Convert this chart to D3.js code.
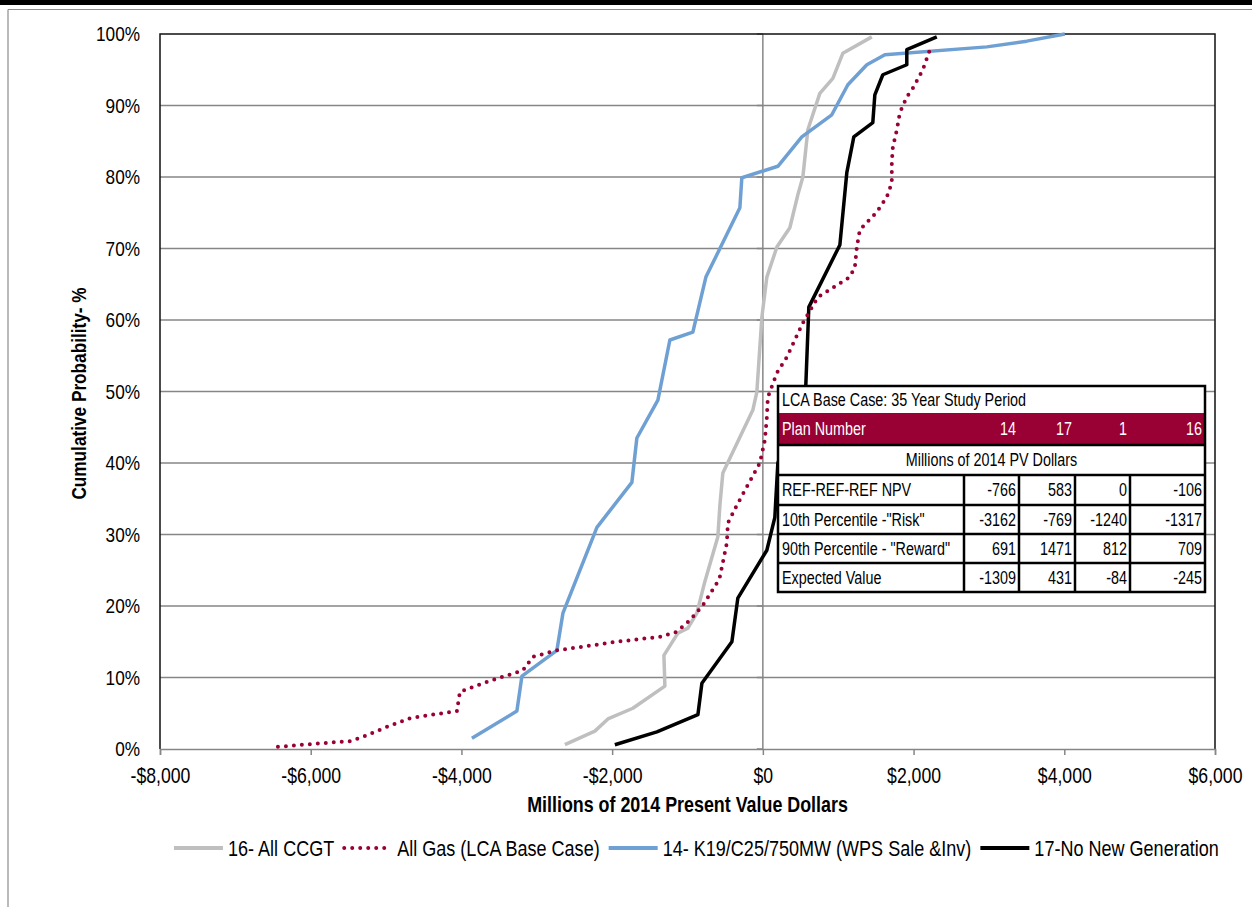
<!DOCTYPE html>
<html>
<head>
<meta charset="utf-8">
<script src="https://cdn.jsdelivr.net/npm/d3@7"></script>
<style>
  html, body { margin: 0; padding: 0; background: #fff; }
  svg { display: block; }
  text { font-family: "Liberation Sans", Arial, sans-serif; }
</style>
</head>
<body>
<svg id="chart" width="1252" height="907"></svg>
<script>
// ---------------- DATA ----------------
const xTicks = [-8000, -6000, -4000, -2000, 0, 2000, 4000, 6000];
const xTickLabels = ["-$8,000", "-$6,000", "-$4,000", "-$2,000", "$0", "$2,000", "$4,000", "$6,000"];
const yTicks = [0, 10, 20, 30, 40, 50, 60, 70, 80, 90, 100];
const yTickLabels = ["0%", "10%", "20%", "30%", "40%", "50%", "60%", "70%", "80%", "90%", "100%"];

const seriesNames = ["16- All CCGT", "All Gas (LCA Base Case)", "14- K19/C25/750MW (WPS Sale &Inv)", "17-No New Generation"];

// 16- All CCGT
const ccgtX = [-2627, -2229, -2056, -1725, -1300, -1313, -1128, -995, -876, -770, -597, -570, -531, -133, -80, -13, 53, 186, 358, 464, 531, 597, 756, 929, 1061, 1446];
const ccgtY = [0.6, 2.5, 4.2, 5.7, 8.8, 13.1, 16.2, 16.9, 19.0, 23.4, 29.7, 34.1, 38.6, 47.4, 49.9, 60.4, 66.0, 70.2, 72.9, 77.5, 80.0, 86.6, 91.7, 93.8, 97.3, 99.6];

// All Gas (LCA Base Case)
const gasX = [-6435, -6103, -5479, -5307, -4988, -4683, -4511, -4060, -4020, -3715, -3449, -3184, -3051, -2733, -1937, -1366, -1141, -968, -796, -610, -570, -478, -464, -345, -40, 27, 53, 66, 186, 318, 531, 730, 1154, 1221, 1247, 1287, 1512, 1645, 1711, 1711, 1725, 1778, 1818, 1910, 1990, 2123, 2216];
const gasY = [0.3, 0.6, 1.1, 1.7, 3.1, 4.3, 4.6, 5.3, 8.0, 9.2, 10.1, 11.0, 12.9, 13.8, 15.0, 15.7, 16.4, 18.0, 20.1, 23.2, 24.1, 28.8, 31.6, 34.1, 40.0, 43.2, 46.4, 49.2, 52.6, 54.8, 59.6, 63.2, 66.0, 67.4, 70.2, 72.6, 75.1, 77.2, 79.2, 82.0, 84.2, 86.6, 89.0, 91.2, 92.4, 95.0, 97.8];

// 14- K19/C25/750MW
const k19X = [-3861, -3264, -3197, -2733, -2653, -2202, -1738, -1672, -1393, -1234, -929, -756, -305, -279, 199, 517, 915, 1128, 1380, 1619, 2972, 3502, 4007];
const k19Y = [1.5, 5.3, 10.2, 13.8, 19.0, 31.0, 37.3, 43.5, 48.8, 57.2, 58.3, 66.0, 75.7, 79.9, 81.5, 85.6, 88.7, 92.9, 95.7, 97.1, 98.2, 99.0, 100];

// 17-No New Generation
const noGenX = [-1964, -1406, -862, -809, -411, -332, 53, 159, 199, 570, 610, 1022, 1114, 1207, 1459, 1486, 1592, 1910, 1910, 2308];
const noGenY = [0.6, 2.4, 4.8, 9.2, 15.0, 21.1, 27.8, 32.4, 40.0, 50.9, 61.8, 70.5, 80.6, 85.6, 87.6, 91.5, 94.3, 95.7, 97.8, 99.6];

// Table
const tableTitle = "LCA Base Case: 35 Year Study Period";
const tableSubtitle = "Millions of 2014 PV Dollars";
const planNumbers = ["14", "17", "1", "16"];
const rowLabels = ["REF-REF-REF NPV", "10th Percentile -\"Risk\"", "90th Percentile - \"Reward\"", "Expected Value"];
const rowNpv = [-766, 583, 0, -106];
const rowRisk = [-3162, -769, -1240, -1317];
const rowReward = [691, 1471, 812, 709];
const rowExpected = [-1309, 431, -84, -245];

// ---------------- CHART ----------------
const svg = d3.select("#chart");
const W = 1252, H = 907;
const plot = {left: 160, right: 1215, top: 34, bottom: 749};
const MAROON = "#990033";
const NARROW = 0.82; // condensed look (Arial Narrow proportions)

// helper: condensed text
function ntext(parent, x, y, str, opts = {}) {
  const t = parent.append("text")
    .attr("transform", `translate(${x},${y}) scale(${NARROW},1)`)
    .attr("x", 0).attr("y", 0)
    .attr("text-anchor", opts.anchor || "start")
    .attr("fill", opts.fill || "#000")
    .style("font-size", opts.size || "21px")
    .style("font-weight", opts.weight || "normal")
    .text(str);
  return t;
}

// page frame
svg.append("rect").attr("x", 0).attr("y", 0).attr("width", W).attr("height", 5).attr("fill", "#000");
svg.append("line").attr("x1", 8).attr("x2", W).attr("y1", 9.5).attr("y2", 9.5).attr("stroke", "#8c8c8c").attr("stroke-width", 1.2);
svg.append("line").attr("x1", 8).attr("x2", 8).attr("y1", 9.5).attr("y2", H).attr("stroke", "#8c8c8c").attr("stroke-width", 1.2);

const x = d3.scaleLinear().domain([-8000, 6000]).range([plot.left, plot.right]);
const y = d3.scaleLinear().domain([0, 100]).range([plot.bottom, plot.top]);

// gridlines
svg.append("g").selectAll("line").data(yTicks.filter(t => t > 0 && t < 100)).join("line")
  .attr("x1", plot.left).attr("x2", plot.right)
  .attr("y1", d => y(d)).attr("y2", d => y(d))
  .attr("stroke", "#868686").attr("stroke-width", 1.5);

// vertical axis at x = 0
svg.append("line").attr("x1", x(0)).attr("x2", x(0)).attr("y1", plot.top).attr("y2", plot.bottom)
  .attr("stroke", "#868686").attr("stroke-width", 1.5);
svg.append("g").selectAll("line").data(yTicks).join("line")
  .attr("x1", x(0) - 6).attr("x2", x(0))
  .attr("y1", d => y(d)).attr("y2", d => y(d))
  .attr("stroke", "#868686").attr("stroke-width", 1.5);

// plot border
svg.append("path")
  .attr("d", `M${plot.left},${plot.bottom}V${plot.top}H${plot.right}V${plot.bottom}`)
  .attr("fill", "none").attr("stroke", "#111").attr("stroke-width", 1.5);

// x axis
const xAxis = d3.axisBottom(x).tickValues(xTicks)
  .tickFormat((d, i) => xTickLabels[i]).tickSize(6).tickPadding(13);
const gx = svg.append("g").attr("transform", `translate(0,${plot.bottom})`).call(xAxis);
gx.select(".domain").attr("stroke", "#868686").attr("stroke-width", 1.5);
gx.selectAll(".tick line").attr("stroke", "#868686").attr("stroke-width", 1.5);
gx.selectAll(".tick text").attr("fill", "#000")
  .attr("transform", `scale(${NARROW},1)`)
  .style("font-size", "21.5px").style("font-family", "'Liberation Sans', Arial, sans-serif");

// y axis labels
const yPad = 20;
const yAxis = d3.axisLeft(y).tickValues(yTicks)
  .tickFormat((d, i) => yTickLabels[i]).tickSize(0).tickPadding(yPad);
const gy = svg.append("g").attr("transform", `translate(${plot.left},0)`).call(yAxis);
gy.select(".domain").remove();
gy.selectAll(".tick text").attr("fill", "#000")
  .attr("x", -yPad / NARROW)
  .attr("transform", `scale(${NARROW},1)`)
  .style("font-size", "21px").style("font-family", "'Liberation Sans', Arial, sans-serif");

// axis titles
ntext(svg, (plot.left + plot.right) / 2, 812, "Millions of 2014 Present Value Dollars",
  {anchor: "middle", weight: "bold", size: "21.8px"});
svg.append("text")
  .attr("transform", `translate(86,${(plot.top + plot.bottom) / 2 + 2}) rotate(-90) scale(${NARROW},1)`)
  .attr("text-anchor", "middle").style("font-size", "21px").style("font-weight", "bold")
  .text("Cumulative Probability- %");

// series
const line = d3.line().x(d => x(d[0])).y(d => y(d[1]));
const zip = (a, b) => a.map((v, i) => [v, b[i]]);
const styles = [
  {xs: ccgtX, ys: ccgtY, color: "#BFBFBF", dash: null, width: 3.5},
  {xs: k19X, ys: k19Y, color: "#6FA0D3", dash: null, width: 3.5},
  {xs: noGenX, ys: noGenY, color: "#000000", dash: null, width: 3.5},
  {xs: gasX, ys: gasY, color: MAROON, dash: "0,8", width: 4}
];
styles.forEach(s => {
  svg.append("path").datum(zip(s.xs, s.ys))
    .attr("d", line).attr("fill", "none")
    .attr("stroke", s.color).attr("stroke-width", s.width)
    .attr("stroke-linejoin", "round")
    .attr("stroke-linecap", s.dash ? "round" : "butt")
    .attr("stroke-dasharray", s.dash);
});

// legend
const legendItems = [
  {name: seriesNames[0], color: "#BFBFBF", dash: null},
  {name: seriesNames[1], color: MAROON, dash: "0,8"},
  {name: seriesNames[2], color: "#6FA0D3", dash: null},
  {name: seriesNames[3], color: "#000000", dash: null}
];
const lg = svg.append("g");
let lx = 174;
const ly = 848;
legendItems.forEach(it => {
  const g = lg.append("g");
  if (it.dash) {
    g.append("line").attr("x1", lx + 1).attr("x2", lx + 42).attr("y1", ly).attr("y2", ly)
      .attr("stroke", it.color).attr("stroke-width", 4).attr("stroke-linecap", "round")
      .attr("stroke-dasharray", it.dash);
  } else {
    g.append("line").attr("x1", lx).attr("x2", lx + 49).attr("y1", ly).attr("y2", ly)
      .attr("stroke", it.color).attr("stroke-width", 4);
  }
  const t = ntext(g, lx + 54, ly + 8, it.name, {size: "22px"});
  lx = lx + 54 + t.node().getComputedTextLength() * NARROW + 9;
});

// table
const colEdges = [778, 964, 1019, 1075, 1130, 1205];
const rowEdges = [386, 413, 445, 475, 505, 534, 563, 592];
const tL = colEdges[0], tR = colEdges[colEdges.length - 1];
const tg = svg.append("g");
tg.append("rect").attr("x", tL).attr("y", rowEdges[0]).attr("width", tR - tL)
  .attr("height", rowEdges[7] - rowEdges[0]).attr("fill", "#fff");
tg.append("rect").attr("x", tL).attr("y", rowEdges[1]).attr("width", tR - tL)
  .attr("height", rowEdges[2] - rowEdges[1]).attr("fill", MAROON);
const fs = "17.5px";
const mid = (a, b) => (a + b) / 2 + 6.2;
ntext(tg, tL + 4, mid(rowEdges[0], rowEdges[1]), tableTitle, {size: fs});
ntext(tg, tL + 4, mid(rowEdges[1], rowEdges[2]), "Plan Number", {size: fs, fill: "#fff"});
planNumbers.forEach((p, i) => {
  ntext(tg, colEdges[i + 2] - 3, mid(rowEdges[1], rowEdges[2]), p, {size: fs, fill: "#fff", anchor: "end"});
});
ntext(tg, (tL + tR) / 2, mid(rowEdges[2], rowEdges[3]), tableSubtitle, {size: fs, anchor: "middle"});
const rowVals = [rowNpv, rowRisk, rowReward, rowExpected];
rowLabels.forEach((lab, r) => {
  const y0 = rowEdges[3 + r], y1 = rowEdges[4 + r];
  ntext(tg, tL + 4, mid(y0, y1), lab, {size: fs});
  rowVals[r].forEach((v, i) => {
    ntext(tg, colEdges[i + 2] - 3, mid(y0, y1), String(v), {size: fs, anchor: "end"});
  });
});
// table lines
[2, 3, 4, 5, 6].forEach(r => {
  tg.append("line").attr("x1", tL).attr("x2", tR).attr("y1", rowEdges[r]).attr("y2", rowEdges[r])
    .attr("stroke", "#000").attr("stroke-width", 2.5);
});
colEdges.slice(1, 5).forEach(c => {
  tg.append("line").attr("x1", c).attr("x2", c).attr("y1", rowEdges[3]).attr("y2", rowEdges[7])
    .attr("stroke", "#000").attr("stroke-width", 2.5);
});
tg.append("rect").attr("x", tL).attr("y", rowEdges[0]).attr("width", tR - tL)
  .attr("height", rowEdges[7] - rowEdges[0]).attr("fill", "none")
  .attr("stroke", "#000").attr("stroke-width", 2.5);
</script>
</body>
</html>
